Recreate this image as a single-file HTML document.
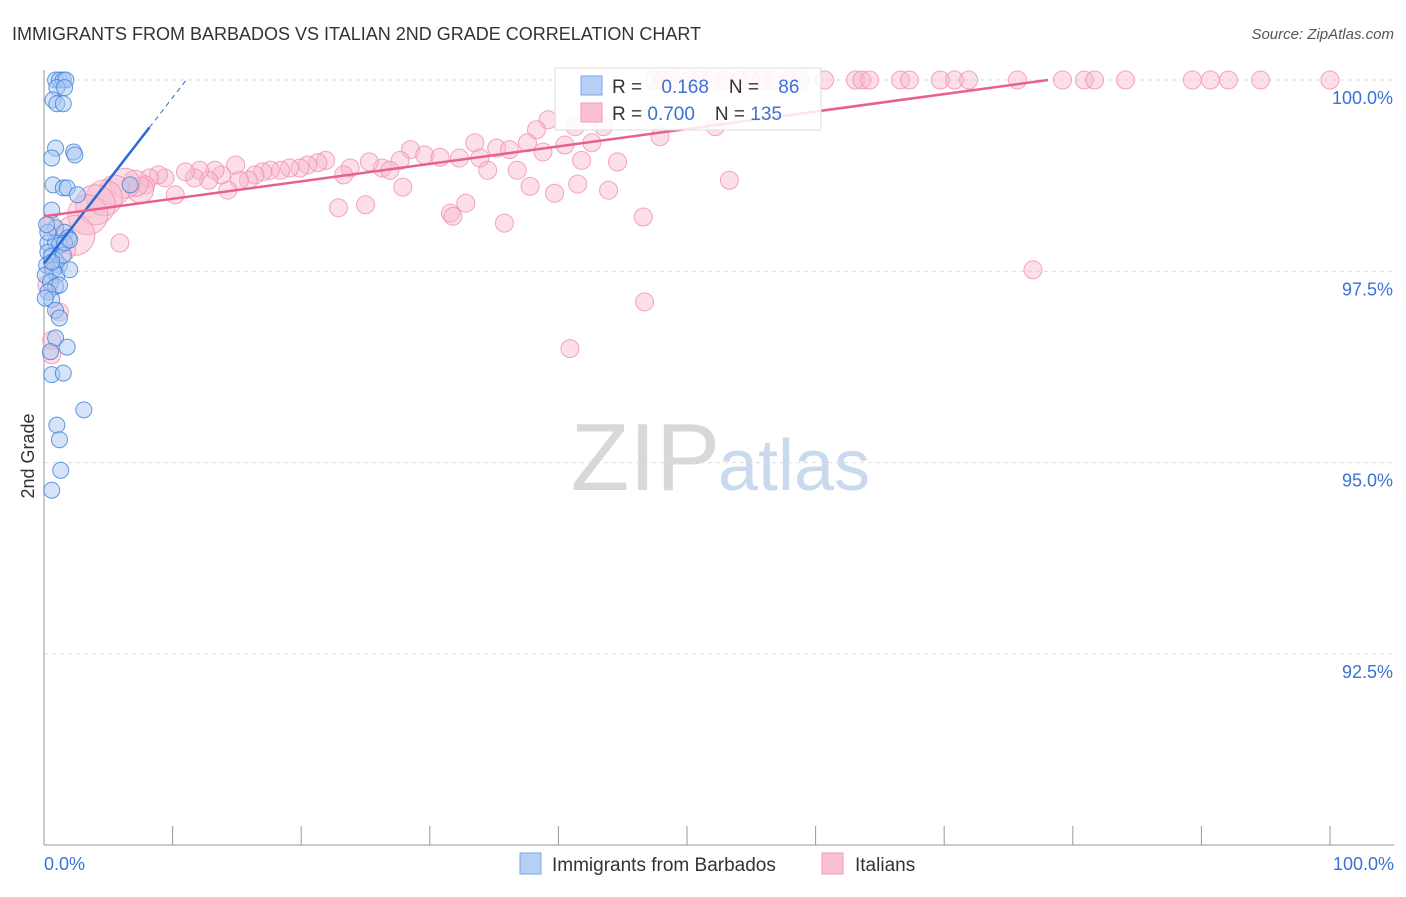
<!DOCTYPE html>
<html><head><meta charset="utf-8"><style>
body{margin:0;background:#fff;font-family:"Liberation Sans",sans-serif}
svg text{font-family:"Liberation Sans",sans-serif}
</style></head><body>
<svg id="chart" width="1406" height="892" xmlns="http://www.w3.org/2000/svg">
<text x="12" y="40" font-size="18" fill="#333">IMMIGRANTS FROM BARBADOS VS ITALIAN 2ND GRADE CORRELATION CHART</text>
<text x="1394" y="39" font-size="15" fill="#555" text-anchor="end" font-style="italic">Source: ZipAtlas.com</text>
<text x="34" y="456" font-size="18" fill="#333" text-anchor="middle" transform="rotate(-90 34 456)">2nd Grade</text>
<text x="720" y="490" font-size="96" fill="#d8d8d8" font-family="Liberation Serif" text-anchor="end">ZIP</text>
<text x="718" y="490" font-size="72" fill="#c9d9ee">atlas</text>
<g id="grid"></g><g id="pts"></g><g id="trend"></g>
<g>
<rect x="555" y="68" width="266" height="62" fill="#fff" fill-opacity="0.85" stroke="#ddd"/>
<rect x="581" y="76" width="21" height="19" fill="#b5cff5" stroke="#7aa6e8"/>
<rect x="581" y="103" width="21" height="19" fill="#f8c0d0" stroke="#f09ab3"/>
<text x="612" y="93" font-size="19" fill="#333">R = <tspan fill="#3a72d4" dx="14">0.168</tspan><tspan dx="20" fill="#333">N = </tspan><tspan fill="#3a72d4" dx="14">86</tspan></text>
<text x="612" y="120" font-size="19" fill="#333">R = <tspan fill="#3a72d4">0.700</tspan><tspan dx="20" fill="#333">N = </tspan><tspan fill="#3a72d4">135</tspan></text>
</g>
<g>
<rect x="520" y="853" width="21" height="21" fill="#b5cff5" stroke="#7aa6e8"/>
<text x="552" y="871" font-size="19" fill="#333">Immigrants from Barbados</text>
<rect x="822" y="853" width="21" height="21" fill="#f8c0d0" stroke="#f09ab3"/>
<text x="855" y="871" font-size="19" fill="#333">Italians</text>
</g>
</svg>
<script>
const yTicks=[100,97.5,95,92.5];
const yTickLabels=["100.0%","97.5%","95.0%","92.5%"];
const xTickVals=[0,10,20,30,40,50,60,70,80,90,100];
const xEndLabels=["0.0%","100.0%"];
const blueX=[0.9,1.2,1.5,1.7,1.0,1.6,0.7,1.0,1.5,0.9,0.6,2.3,2.4,0.7,1.5,1.8,2.6,0.6,0.9,1.6,1.9,0.3,0.9,1.2,0.3,0.6,0.9,1.2,0.2,0.7,1.0,0.1,0.5,0.9,1.2,0.3,0.6,0.9,0.1,1.2,0.9,1.8,0.5,0.6,1.5,3.1,1.0,1.2,1.3,0.6,6.7,1.5,2.0,0.3,1.6,0.6,2.0,0.2];
const blueY=[100,100,100,100,99.9,99.9,99.74,99.69,99.69,99.11,98.98,99.06,99.02,98.63,98.59,98.59,98.5,98.3,98.07,98.01,97.94,97.87,97.87,97.84,97.75,97.7,97.65,97.58,97.58,97.52,97.45,97.45,97.36,97.3,97.32,97.23,97.13,96.99,97.15,96.89,96.63,96.51,96.45,96.15,96.17,95.69,95.49,95.3,94.9,94.64,98.63,97.71,97.52,98.01,97.87,97.62,97.91,98.11];
const pinkX=[47.5,48.1,48.8,50.2,51.0,51.9,53.0,54.1,54.9,55.8,56.8,58.0,58.8,60.7,63.1,63.6,64.2,66.6,67.3,69.7,70.8,71.9,75.7,79.2,80.9,81.7,84.1,89.3,90.7,92.1,94.6,100,
39.2,41.3,38.3,43.5,47.9,52.2,33.5,35.2,36.2,37.6,38.8,40.5,42.6,41.8,44.6,28.5,29.6,30.8,32.3,33.9,34.5,36.8,27.7,26.3,26.9,25.3,23.8,23.3,21.9,21.3,20.5,19.9,19.1,18.4,17.6,17.0,16.4,15.9,15.2,14.9,14.3,13.8,13.3,12.8,12.1,11.7,11.0,10.2,9.4,8.9,8.2,7.9,7.5,7.1,6.3,5.5,4.7,4.0,3.4,2.4,1.6,0.9,5.9,27.9,22.9,25.0,31.6,31.8,32.8,35.8,37.8,39.7,41.5,43.9,46.6,53.3,76.9,46.7,40.9,1.2,0.6,0.6,0.3,0.5];
const pinkY=[100,100,100,100,100,100,100,100,100,100,100,100,100,100,100,100,100,100,100,100,100,100,100,100,100,100,100,100,100,100,100,100,
99.48,99.39,99.35,99.39,99.26,99.39,99.18,99.11,99.09,99.18,99.06,99.15,99.18,98.95,98.93,99.09,99.02,98.99,98.98,98.98,98.82,98.82,98.95,98.85,98.82,98.93,98.85,98.76,98.95,98.92,98.89,98.85,98.85,98.82,98.82,98.8,98.76,98.69,98.69,98.89,98.56,98.76,98.82,98.69,98.82,98.72,98.8,98.5,98.72,98.76,98.72,98.63,98.56,98.65,98.65,98.56,98.46,98.37,98.24,97.97,97.78,97.62,97.87,98.6,98.33,98.37,98.26,98.22,98.39,98.13,98.61,98.52,98.64,98.56,98.21,98.69,97.52,97.1,96.49,96.97,96.41,96.6,97.32,98.11];
const pinkR=[];for(let i=0;i<pinkX.length;i++)pinkR.push(9);
[[84,13],[85,13],[86,15],[87,15],[88,18],[89,20],[90,20],[91,20],[92,11],[114,10],[115,10]].forEach(p=>pinkR[p[0]]=p[1]);
const blueTrend=[97.60,0.217];
const pinkTrend=[98.22,0.0228];
const NS="http://www.w3.org/2000/svg";
const xs=v=>44+v*12.86;
const ys=v=>80+(100-v)*76.53;
const grid=document.getElementById('grid');
function mk(tag,attrs,parent){const e=document.createElementNS(NS,tag);for(const k in attrs)e.setAttribute(k,attrs[k]);parent.appendChild(e);return e;}
yTicks.forEach((t,i)=>{
 const l=mk('line',{x1:44,x2:1394,y1:ys(t),y2:ys(t),stroke:'#ddd','stroke-dasharray':'4,4'},grid);
 
 
 const tx=mk('text',{x:1393,y:ys(t)+24,'font-size':18,fill:'#3a72d4','text-anchor':'end'},grid);
 tx.textContent=yTickLabels[i];
 
 
});
const ax=mk('line',{x1:44,x2:44,y1:70,y2:845,stroke:'#999'},grid);


const bx=mk('line',{x1:44,x2:1394,y1:845,y2:845,stroke:'#999'},grid);


xTickVals.forEach(v=>{
 const t=mk('line',{x1:xs(v),x2:xs(v),y1:826,y2:845,stroke:'#999'},grid);
 
 
});
[[0,'start',44],[1,'end',1394]].forEach(a=>{
 const t=mk('text',{x:a[2],y:870,'font-size':18,fill:'#3a72d4','text-anchor':a[1]},grid);
 t.textContent=xEndLabels[a[0]];
 
 
});
const pts=document.getElementById('pts');
pinkX.forEach((x,i)=>{
 const c=mk('circle',{cx:xs(x),cy:ys(pinkY[i]),r:pinkR[i],fill:'#f8b8cb','fill-opacity':0.45,stroke:'#f090ad','stroke-opacity':0.8},pts);
 
 
});
blueX.forEach((x,i)=>{
 const c=mk('circle',{cx:xs(x),cy:ys(blueY[i]),r:8,fill:'#a9c8f2','fill-opacity':0.5,stroke:'#3d7fdc','stroke-opacity':0.8},pts);
 
 
});
const tr=document.getElementById('trend');
const bEnd=(100-blueTrend[0])/blueTrend[1];
const l1=mk('line',{x1:xs(0),y1:ys(blueTrend[0]),x2:xs(8.2),y2:ys(blueTrend[0]+blueTrend[1]*8.2),stroke:'#2a6ad6','stroke-width':2.5},tr);


const l2=mk('line',{x1:xs(8.2),y1:ys(blueTrend[0]+blueTrend[1]*8.2),x2:xs(bEnd),y2:ys(100),stroke:'#2a6ad6','stroke-width':1,'stroke-dasharray':'5,4'},tr);


const pEnd=(100-pinkTrend[0])/pinkTrend[1];
const l3=mk('line',{x1:xs(0),y1:ys(pinkTrend[0]),x2:xs(pEnd),y2:ys(100),stroke:'#e8618c','stroke-width':2.5},tr);


</script>
</body></html>
